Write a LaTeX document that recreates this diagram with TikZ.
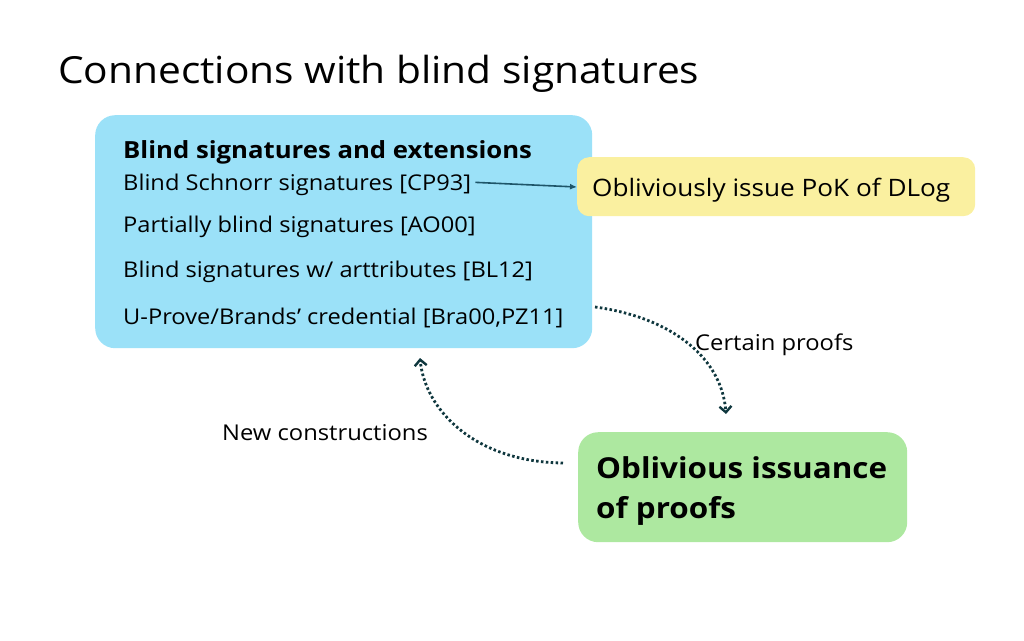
\documentclass[tikz,border=0pt]{standalone}
\usepackage{fontspec}
\setmainfont[FakeStretch=1.09]{Open Sans}
\usetikzlibrary{arrows.meta}
\definecolor{bluebox}{RGB}{155,225,248}
\definecolor{yellowbox}{RGB}{250,240,160}
\definecolor{greenbox}{RGB}{173,232,160}
\definecolor{teal}{RGB}{30,85,105}
\definecolor{darkteal}{RGB}{15,55,62}
\tikzset{
  box/.style={rounded corners=20pt, inner sep=0pt, anchor=north west},
  txt/.style={anchor=base west, inner sep=0pt, text=black},
  item/.style={txt, font=\fontsize{21.7}{26}\selectfont},
  lbl/.style={txt, font=\fontsize{21.8}{26}\selectfont},
  dotarrow/.style={darkteal, line width=2.8pt, dash pattern=on 2.5pt off 2.4pt, -{Straight Barb[length=6pt,width=12pt,line width=2.4pt]}},
}
\begin{document}
\begin{tikzpicture}[x=1pt,y=-1pt]
\useasboundingbox (0,0) rectangle (1024,640);
\node[txt, font=\fontsize{37.3}{44}\selectfont] (title) at (58,83) {Connections with blind signatures};
% boxes
\node[box, fill=bluebox, minimum width=497pt, minimum height=233pt] (blue) at (95,115) {};
\node[box, fill=yellowbox, minimum width=398pt, minimum height=59pt, rounded corners=12pt] (yellow) at (577,157) {};
\node[box, fill=greenbox, minimum width=329pt, minimum height=110pt] (green) at (578,432) {};
% blue box text
\node[txt, font=\fontsize{23.6}{28}\selectfont\bfseries] (head) at (123,158) {Blind signatures and extensions};
\node[item] (i1) at (123,190) {Blind Schnorr signatures [CP93]};
\node[item] (i2) at (123,232) {Partially blind signatures [AO00]};
\node[item] (i3) at (123,277) {Blind signatures w/ arttributes [BL12]};
\node[item] (i4) at (123,324) {U-Prove/Brands’ credential [Bra00,PZ11]};
% yellow text
\node[txt, font=\fontsize{24}{28}\selectfont] (ytext) at (592,196) {Obliviously issue PoK of DLog};
% green text
\node[txt, font=\fontsize{28.8}{34}\selectfont\bfseries] (g1) at (596,478) {Oblivious issuance};
\node[txt, font=\fontsize{28.8}{34}\selectfont\bfseries] (g2) at (596,518) {of proofs};
% labels
\node[lbl] (cert) at (695,350) {Certain proofs};
\node[lbl] (newc) at (222,440) {New constructions};
% connectors
\draw[teal, line width=1.6pt, -{Latex[length=7pt,width=6pt]}] (i1.east) ++(4,-2) coordinate (s1) -- (yellow.west |- 0,187);
\coordinate (c1s) at (595,307);
\coordinate (c1e) at (726,414);
\draw[dotarrow] (c1s) .. controls (675,318) and (722,360) .. (c1e);
\coordinate (c2s) at (563,463);
\coordinate (c2e) at (420,358);
\draw[dotarrow] (c2s) .. controls (475,462) and (425,410) .. (c2e);
\end{tikzpicture}
\end{document}
